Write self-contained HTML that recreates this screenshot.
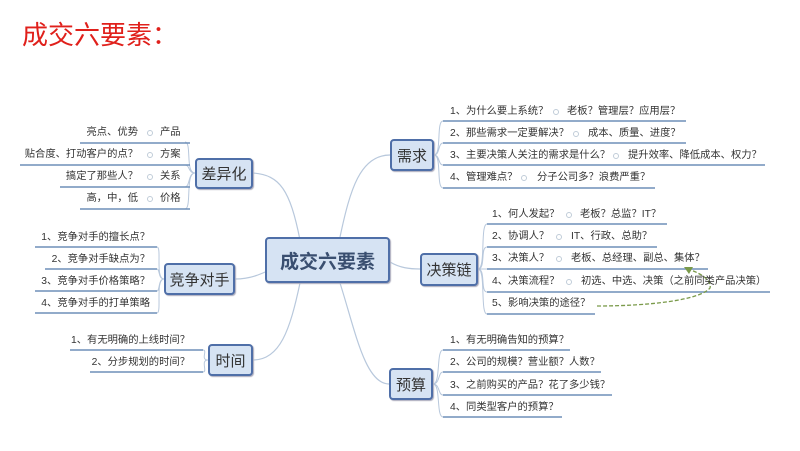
<!DOCTYPE html>
<html><head><meta charset="utf-8"><style>
body{margin:0;width:800px;height:451px;background:#fff;position:relative;overflow:hidden;font-family:"Liberation Sans","Noto Sans CJK SC",sans-serif;}
.t{position:absolute;font-size:10.3px;color:#333;white-space:nowrap;line-height:14px}
.r{text-align:right}
.b{position:absolute;box-sizing:border-box;border:2px solid #4f6fa8;background:#d6e3f3;border-radius:4px;font-size:15px;color:#333;display:flex;align-items:center;justify-content:center;box-shadow:1px 1px 1px #aab}
svg{position:absolute;left:0;top:0}
</style></head><body>
<div style="position:absolute;left:22px;top:15px;font-size:26px;color:#e0201b;font-family:'Liberation Sans','Noto Sans CJK SC',sans-serif">成交六要素：</div>
<svg width="800" height="451">
<g fill="none" stroke="#b8c8dc" stroke-width="1.2">
<path d="M300 240 C290 190 280 175 253 173"/>
<path d="M280 265 C260 275 250 279 235 279"/>
<path d="M300 283 C290 330 280 360 253 360"/>
<path d="M340 237 C350 190 360 155 390 155"/>
<path d="M390 262 C400 268 410 269 420 269"/>
<path d="M340 283 C355 330 365 384 389 384"/>
</g>
<g fill="none" stroke="#b8c8dc" stroke-width="1">
<path d="M195 173 C185 173 192 142 185 142 M195 173 C188 173 190 165 185 165 M195 173 C188 173 190 187 185 187 M195 173 C185 173 192 209 185 209"/>
<path d="M164 279 C155 279 162 247 157 247 M164 279 C158 279 160 269 157 269 M164 279 C158 279 160 291 157 291 M164 279 C155 279 162 313 157 313"/>
<path d="M208 360 C200 360 208 350 203 350 M208 360 C200 360 208 372 203 372"/>
<path d="M434 155 C442 155 436 121 443 121 M434 155 C440 155 438 143 443 143 M434 155 C440 155 438 165 443 165 M434 155 C442 155 436 188 443 188"/>
<path d="M478 269 C486 269 480 224 487 224 M478 269 C486 269 480 247 487 247 M478 269 L487 269 M478 269 C486 269 480 292 487 292 M478 269 C486 269 480 314 487 314"/>
<path d="M433 384 C441 384 436 350 443 350 M433 384 C440 384 438 372 443 372 M433 384 C440 384 438 395 443 395 M433 384 C441 384 436 417 443 417"/>
</g>
<g stroke="#6f8fb8" stroke-width="1.5">
<line x1="80" y1="143" x2="190" y2="143"/><line x1="20" y1="165" x2="190" y2="165"/><line x1="60" y1="187" x2="190" y2="187"/><line x1="80" y1="209" x2="190" y2="209"/>
<line x1="35" y1="247" x2="157" y2="247"/><line x1="45" y1="269" x2="157" y2="269"/><line x1="35" y1="291" x2="157" y2="291"/><line x1="35" y1="313" x2="157" y2="313"/>
<line x1="70" y1="350" x2="203" y2="350"/><line x1="90" y1="372" x2="203" y2="372"/>
<line x1="443" y1="121" x2="686" y2="121"/><line x1="443" y1="143" x2="686" y2="143"/><line x1="443" y1="165" x2="765" y2="165"/><line x1="443" y1="188" x2="655" y2="188"/>
<line x1="487" y1="224" x2="667" y2="224"/><line x1="487" y1="247" x2="657" y2="247"/><line x1="487" y1="269" x2="708" y2="269"/><line x1="487" y1="292" x2="770" y2="292"/><line x1="487" y1="314" x2="595" y2="314"/>
<line x1="443" y1="350" x2="570" y2="350"/><line x1="443" y1="372" x2="601" y2="372"/><line x1="443" y1="395" x2="612" y2="395"/><line x1="443" y1="417" x2="562" y2="417"/>
</g>
<g fill="none" stroke="#c0ccd8" stroke-width="1">
<circle cx="150" cy="133" r="2.5"/><circle cx="150" cy="155" r="2.5"/><circle cx="150" cy="177" r="2.5"/><circle cx="150" cy="199" r="2.5"/>
<circle cx="556" cy="112" r="2.5"/><circle cx="576" cy="134" r="2.5"/><circle cx="616" cy="156" r="2.5"/><circle cx="524" cy="178" r="2.5"/>
<circle cx="569" cy="215" r="2.5"/><circle cx="559" cy="237" r="2.5"/><circle cx="559" cy="259" r="2.5"/><circle cx="569" cy="282" r="2.5"/>
</g>
<path d="M597 306 C650 306 700 300 710 288 C712 280 700 273 688 269" fill="none" stroke="#7a9a4a" stroke-width="1.3" stroke-dasharray="4,2"/>
<path d="M684 267 L693 267 L689 274 Z" fill="#7a9a4a"/>
</svg>
<div class="t r" style="right:662px;top:126px">亮点、优势</div><div class="t" style="left:160px;top:126px">产品</div>
<div class="t r" style="right:662px;top:148px">贴合度、打动客户的点？</div><div class="t" style="left:160px;top:148px">方案</div>
<div class="t r" style="right:662px;top:170px">搞定了那些人？</div><div class="t" style="left:160px;top:170px">关系</div>
<div class="t r" style="right:662px;top:192px">高，中，低</div><div class="t" style="left:160px;top:192px">价格</div>
<div class="t r" style="right:650px;top:231px">1、竞争对手的擅长点？</div>
<div class="t r" style="right:650px;top:253px">2、竞争对手缺点为？</div>
<div class="t r" style="right:650px;top:275px">3、竞争对手价格策略？</div>
<div class="t r" style="right:650px;top:297px">4、竞争对手的打单策略</div>
<div class="t r" style="right:610px;top:334px">1、有无明确的上线时间？</div>
<div class="t r" style="right:610px;top:356px">2、分步规划的时间？</div>
<div class="t" style="left:450px;top:105px">1、为什么要上系统？</div><div class="t" style="left:567px;top:105px">老板？管理层？应用层？</div>
<div class="t" style="left:450px;top:127px">2、那些需求一定要解决？</div><div class="t" style="left:588px;top:127px">成本、质量、进度？</div>
<div class="t" style="left:450px;top:149px">3、主要决策人关注的需求是什么？</div><div class="t" style="left:628px;top:149px">提升效率、降低成本、权力？</div>
<div class="t" style="left:450px;top:171px">4、管理难点？</div><div class="t" style="left:537px;top:171px">分子公司多？浪费严重？</div>
<div class="t" style="left:492px;top:208px">1、何人发起？</div><div class="t" style="left:580px;top:208px">老板？总监？IT？</div>
<div class="t" style="left:492px;top:230px">2、协调人？</div><div class="t" style="left:571px;top:230px">IT、行政、总助？</div>
<div class="t" style="left:492px;top:252px">3、决策人？</div><div class="t" style="left:571px;top:252px">老板、总经理、副总、集体？</div>
<div class="t" style="left:492px;top:275px">4、决策流程？</div><div class="t" style="left:581px;top:275px">初选、中选、决策（之前同类产品决策）</div>
<div class="t" style="left:492px;top:297px">5、影响决策的途径？</div>
<div class="t" style="left:450px;top:334px">1、有无明确告知的预算？</div>
<div class="t" style="left:450px;top:356px">2、公司的规模？营业额？人数？</div>
<div class="t" style="left:450px;top:379px">3、之前购买的产品？花了多少钱？</div>
<div class="t" style="left:450px;top:401px">4、同类型客户的预算？</div>
<div class="b" style="left:265px;top:237px;width:125px;height:46px;font-size:19px;font-weight:bold;color:#3a4f70">成交六要素</div>
<div class="b" style="left:195px;top:158px;width:58px;height:31px">差异化</div>
<div class="b" style="left:164px;top:263px;width:71px;height:32px">竞争对手</div>
<div class="b" style="left:208px;top:344px;width:45px;height:32px">时间</div>
<div class="b" style="left:390px;top:139px;width:44px;height:32px">需求</div>
<div class="b" style="left:420px;top:253px;width:58px;height:33px">决策链</div>
<div class="b" style="left:389px;top:368px;width:44px;height:32px">预算</div>
</body></html>
